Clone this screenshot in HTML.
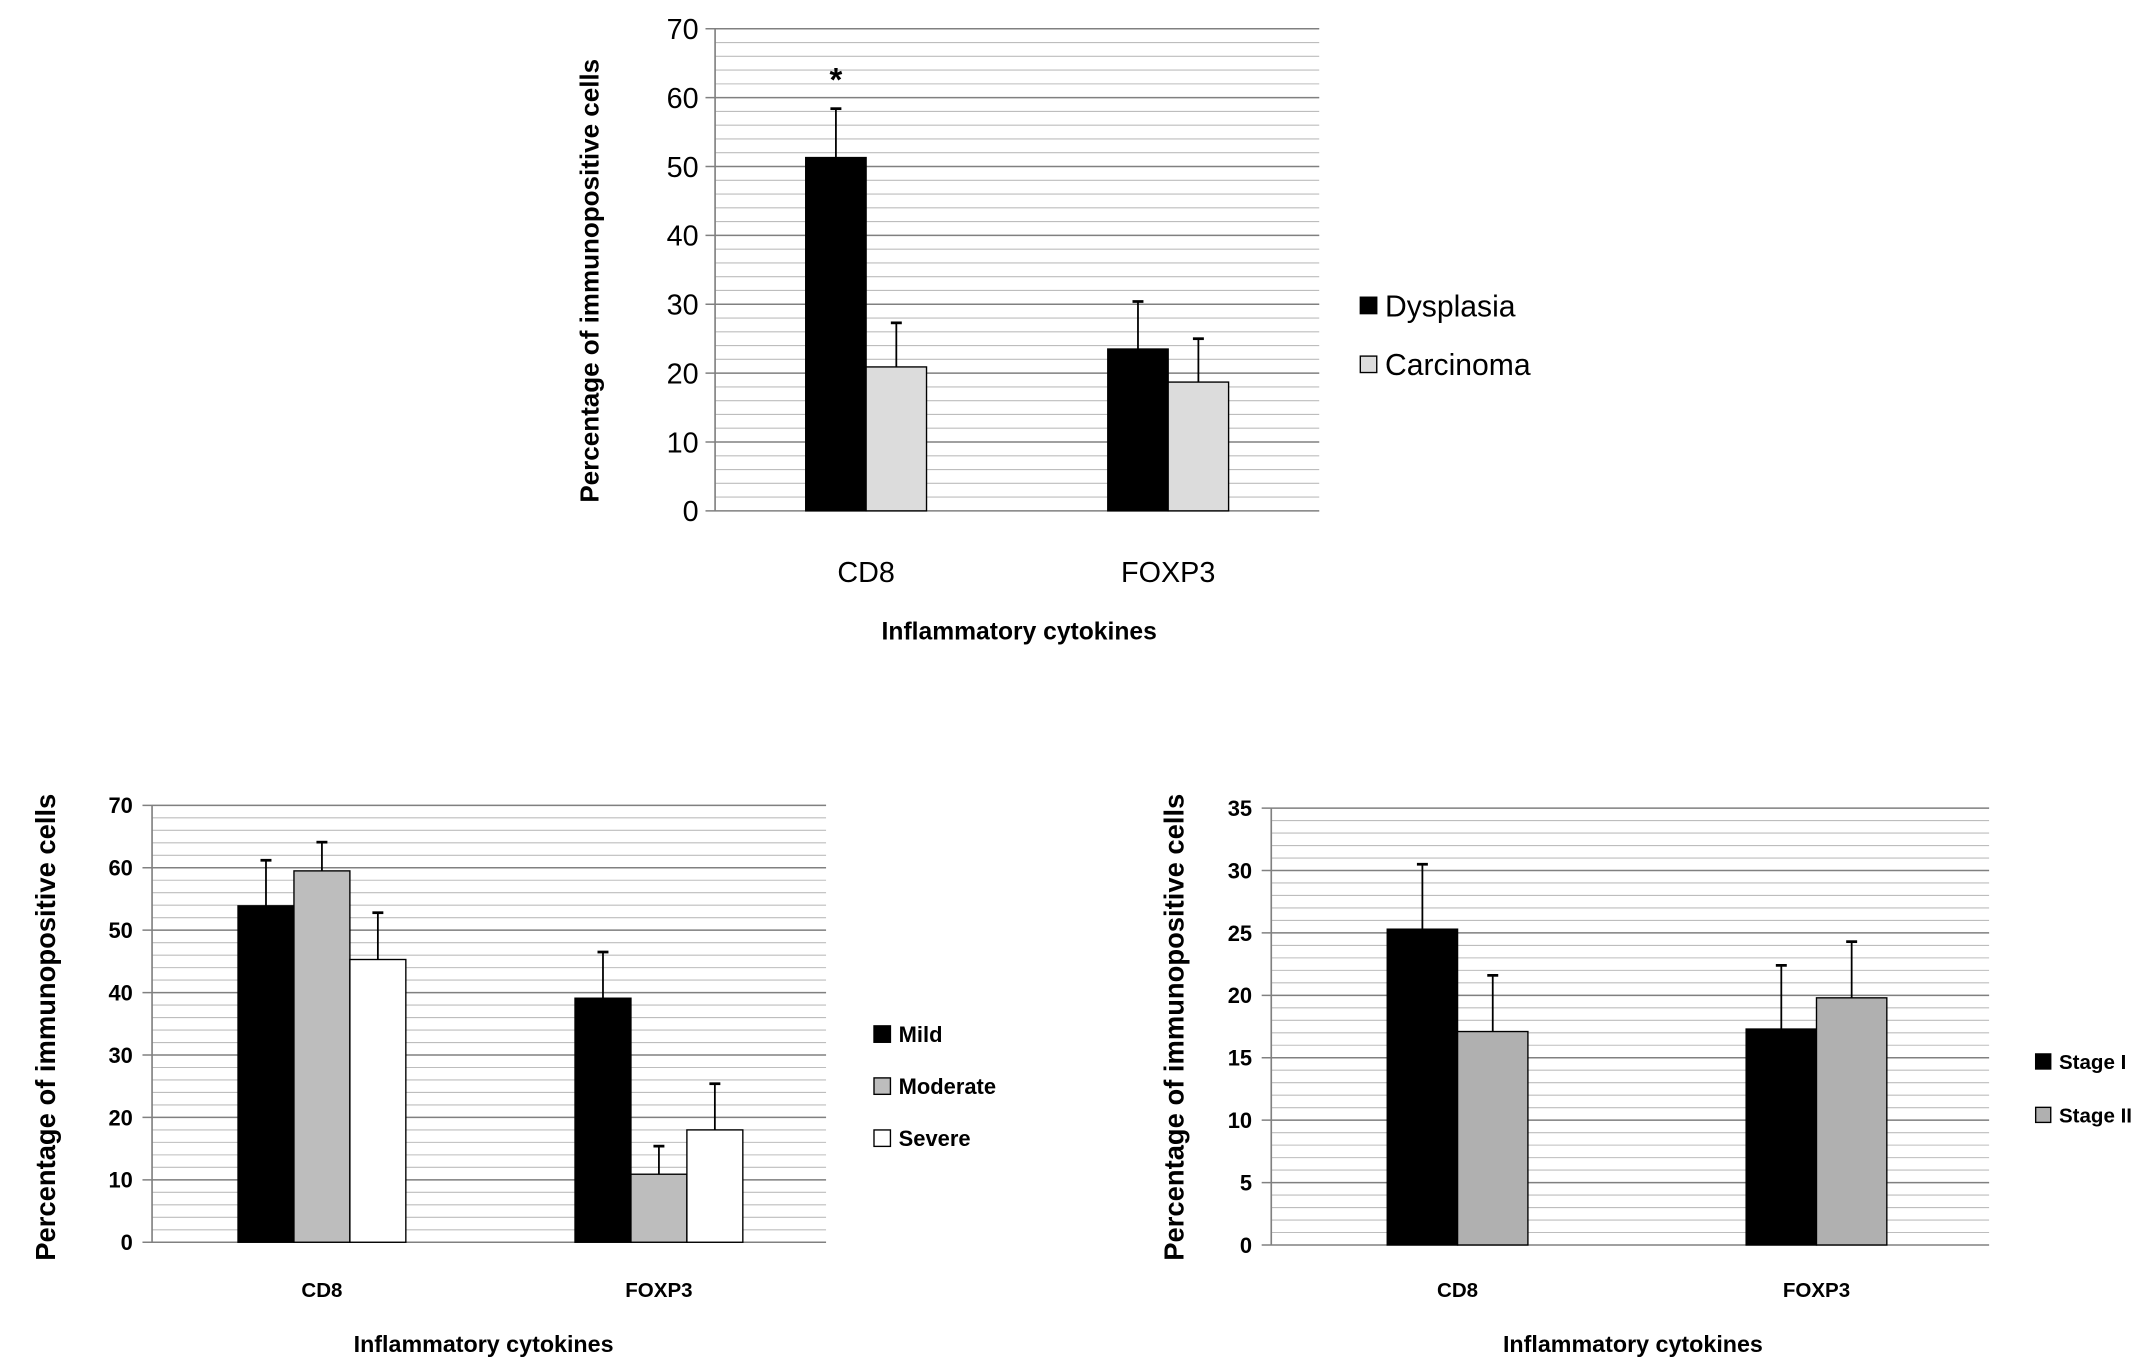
<!DOCTYPE html>
<html><head><meta charset="utf-8"><style>
html,body{margin:0;padding:0;background:#fff;}
svg{display:block;}
text{font-family:"Liberation Sans",sans-serif;fill:#000;}
</style></head><body>
<svg id="fig" xmlns="http://www.w3.org/2000/svg" width="2148" height="1371" viewBox="0 0 1568 1001" preserveAspectRatio="none"></svg>
<script>
// Chart A: Dysplasia vs Carcinoma
const catsA = ["CD8", "FOXP3"];
const dysplasiaVals = [51.3, 23.5];
const dysplasiaErr = [7.1, 6.9];
const carcinomaVals = [20.9, 18.7];
const carcinomaErr = [6.4, 6.3];
const ticksA = [0, 10, 20, 30, 40, 50, 60, 70];
// Chart B: Mild / Moderate / Severe
const catsB = ["CD8", "FOXP3"];
const mildVals = [53.9, 39.1];
const mildErr = [7.3, 7.4];
const moderateVals = [59.5, 10.9];
const moderateErr = [4.6, 4.5];
const severeVals = [45.3, 18.0];
const severeErr = [7.5, 7.4];
const ticksB = [0, 10, 20, 30, 40, 50, 60, 70];
// Chart C: Stage I / Stage II
const catsC = ["CD8", "FOXP3"];
const stage1Vals = [25.3, 17.3];
const stage1Err = [5.2, 5.1];
const stage2Vals = [17.1, 19.8];
const stage2Err = [4.5, 4.5];
const ticksC = [0, 5, 10, 15, 20, 25, 30, 35];

const NS = "http://www.w3.org/2000/svg";
const svg = document.getElementById("fig");
function mk(tag, attrs, parent, txt) {
  const e = document.createElementNS(NS, tag);
  for (const k in attrs) e.setAttribute(k, attrs[k]);
  if (txt !== undefined) e.textContent = txt;
  (parent || svg).appendChild(e);
  return e;
}

function chart(cfg) {
  const g = mk("g", {});
  
  
  const maxV = cfg.ticks[cfg.ticks.length - 1];
  const y = v => cfg.y0 - (v / maxV) * (cfg.y0 - cfg.yTop);
  const nb = cfg.series.length;
  const groupW = (cfg.x1 - cfg.x0) / cfg.cats.length;
  const bw = groupW * cfg.barFrac;
  const cx = i => cfg.x0 + groupW * (i + 0.5) + (cfg.shift || 0);
  for (let v = 0; v <= maxV + 1e-9; v += cfg.minor) {
    const l = mk("line", {x1: cfg.x0, x2: cfg.x1, y1: y(v), y2: y(v), stroke: "#bdbdbd", "stroke-width": 0.8}, g);
    
    
  }
  cfg.ticks.forEach(t => {
    const l = mk("line", {x1: cfg.x0 - 7, x2: cfg.x1, y1: y(t), y2: y(t), stroke: "#808080", "stroke-width": 1.1}, g);
    
    
    const tx = mk("text", {x: cfg.x0 - cfg.tickGap, y: y(t) + cfg.tickSize * 0.36, "text-anchor": "end", "font-size": cfg.tickSize, "font-weight": cfg.tickBold ? "bold" : "normal"}, g, String(t));
    
    
  });
  const ax = mk("line", {x1: cfg.x0, x2: cfg.x0, y1: cfg.yTop, y2: cfg.y0, stroke: "#808080", "stroke-width": 1.2}, g);
  
  
  cfg.cats.forEach((c, i) => {
    const start = cx(i) - bw * nb / 2;
    cfg.series.forEach((s, j) => {
      const v = s.vals[i], e = s.err[i];
      const bx = start + j * bw;
      const eb = mk("line", {x1: bx + bw / 2, x2: bx + bw / 2, y1: y(v), y2: y(v + e), stroke: "#000", "stroke-width": 1.3}, g);
      
      
      const cap = mk("line", {x1: bx + bw / 2 - 4, x2: bx + bw / 2 + 4, y1: y(v + e), y2: y(v + e), stroke: "#000", "stroke-width": 2}, g);
      
      
      const r = mk("rect", {x: bx, y: y(v), width: bw, height: y(0) - y(v), fill: s.color, stroke: "#000", "stroke-width": 1}, g);
      
      
    });
    const lt = mk("text", {x: cx(i), y: cfg.catY, "text-anchor": "middle", "font-size": cfg.catSize, "font-weight": cfg.tickBold ? "bold" : "normal"}, g, c);
    
    
  });
  const xt = mk("text", {x: cfg.xTitleX, y: cfg.xTitleY, "text-anchor": "middle", "font-size": cfg.xTitleSize, "font-weight": "bold"}, g, "Inflammatory cytokines");
  
  
  const yt = mk("text", {x: 0, y: 0, "text-anchor": "middle", "font-size": cfg.yTitleSize, "font-weight": "bold", transform: `translate(${cfg.yTitleX},${cfg.yTitleY}) rotate(-90)`}, g, "Percentage of immunopositive cells");
  
  
  cfg.series.forEach((s, j) => {
    const ly = cfg.legY + j * cfg.legStep;
    const lg = mk("g", {}, g);
    
    
    mk("rect", {x: cfg.legX, y: ly - cfg.legSq / 2, width: cfg.legSq, height: cfg.legSq, fill: s.color, stroke: "#000", "stroke-width": 1}, lg);
    mk("text", {x: cfg.legX + cfg.legSq + 6, y: ly + cfg.legSize * 0.36, "font-size": cfg.legSize, "font-weight": cfg.tickBold ? "bold" : "normal"}, lg, s.label);
  });
  return {g, y, cx, bw};
}

const A = chart({name: "chart-dysplasia-carcinoma", cats: catsA, ticks: ticksA, minor: 2,
  x0: 522, x1: 963, y0: 373, yTop: 21, barFrac: 0.2, tickSize: 21, tickGap: 12, tickBold: false,
  catSize: 21, catY: 425, xTitleSize: 18, yTitleSize: 19, xTitleX: 744, xTitleY: 467, yTitleX: 437, yTitleY: 205,
  legX: 993, legY: 223, legStep: 43, legSq: 12, legSize: 22,
  series: [{label: "Dysplasia", vals: dysplasiaVals, err: dysplasiaErr, color: "#000"},
           {label: "Carcinoma", vals: carcinomaVals, err: carcinomaErr, color: "#dcdcdc"}]});
const star = mk("text", {x: A.cx(0) - A.bw / 2, y: A.y(dysplasiaVals[0] + dysplasiaErr[0]) - 13, "text-anchor": "middle", "font-size": 24, "font-weight": "bold"}, A.g, "*");



chart({name: "chart-dysplasia-grade", cats: catsB, ticks: ticksB, minor: 2,
  x0: 111, x1: 603, y0: 907, yTop: 588, barFrac: 0.166, tickSize: 16, tickGap: 14, tickBold: true,
  catSize: 15, catY: 947, xTitleSize: 17, yTitleSize: 20, xTitleX: 353, xTitleY: 987, yTitleX: 40, yTitleY: 750, shift: 1,
  legX: 638, legY: 755, legStep: 38, legSq: 12, legSize: 16,
  series: [{label: "Mild", vals: mildVals, err: mildErr, color: "#000"},
           {label: "Moderate", vals: moderateVals, err: moderateErr, color: "#bdbdbd"},
           {label: "Severe", vals: severeVals, err: severeErr, color: "#fff"}]});

chart({name: "chart-carcinoma-stage", cats: catsC, ticks: ticksC, minor: 1,
  x0: 928, x1: 1452, y0: 909, yTop: 590, barFrac: 0.196, tickSize: 16, tickGap: 14, tickBold: true,
  catSize: 15, catY: 947, xTitleSize: 17, yTitleSize: 20, xTitleX: 1192, xTitleY: 987, yTitleX: 864, yTitleY: 750, shift: 5,
  legX: 1486, legY: 775, legStep: 39, legSq: 11, legSize: 15,
  series: [{label: "Stage I", vals: stage1Vals, err: stage1Err, color: "#000"},
           {label: "Stage II", vals: stage2Vals, err: stage2Err, color: "#b0b0b0"}]});
</script>
</body></html>
